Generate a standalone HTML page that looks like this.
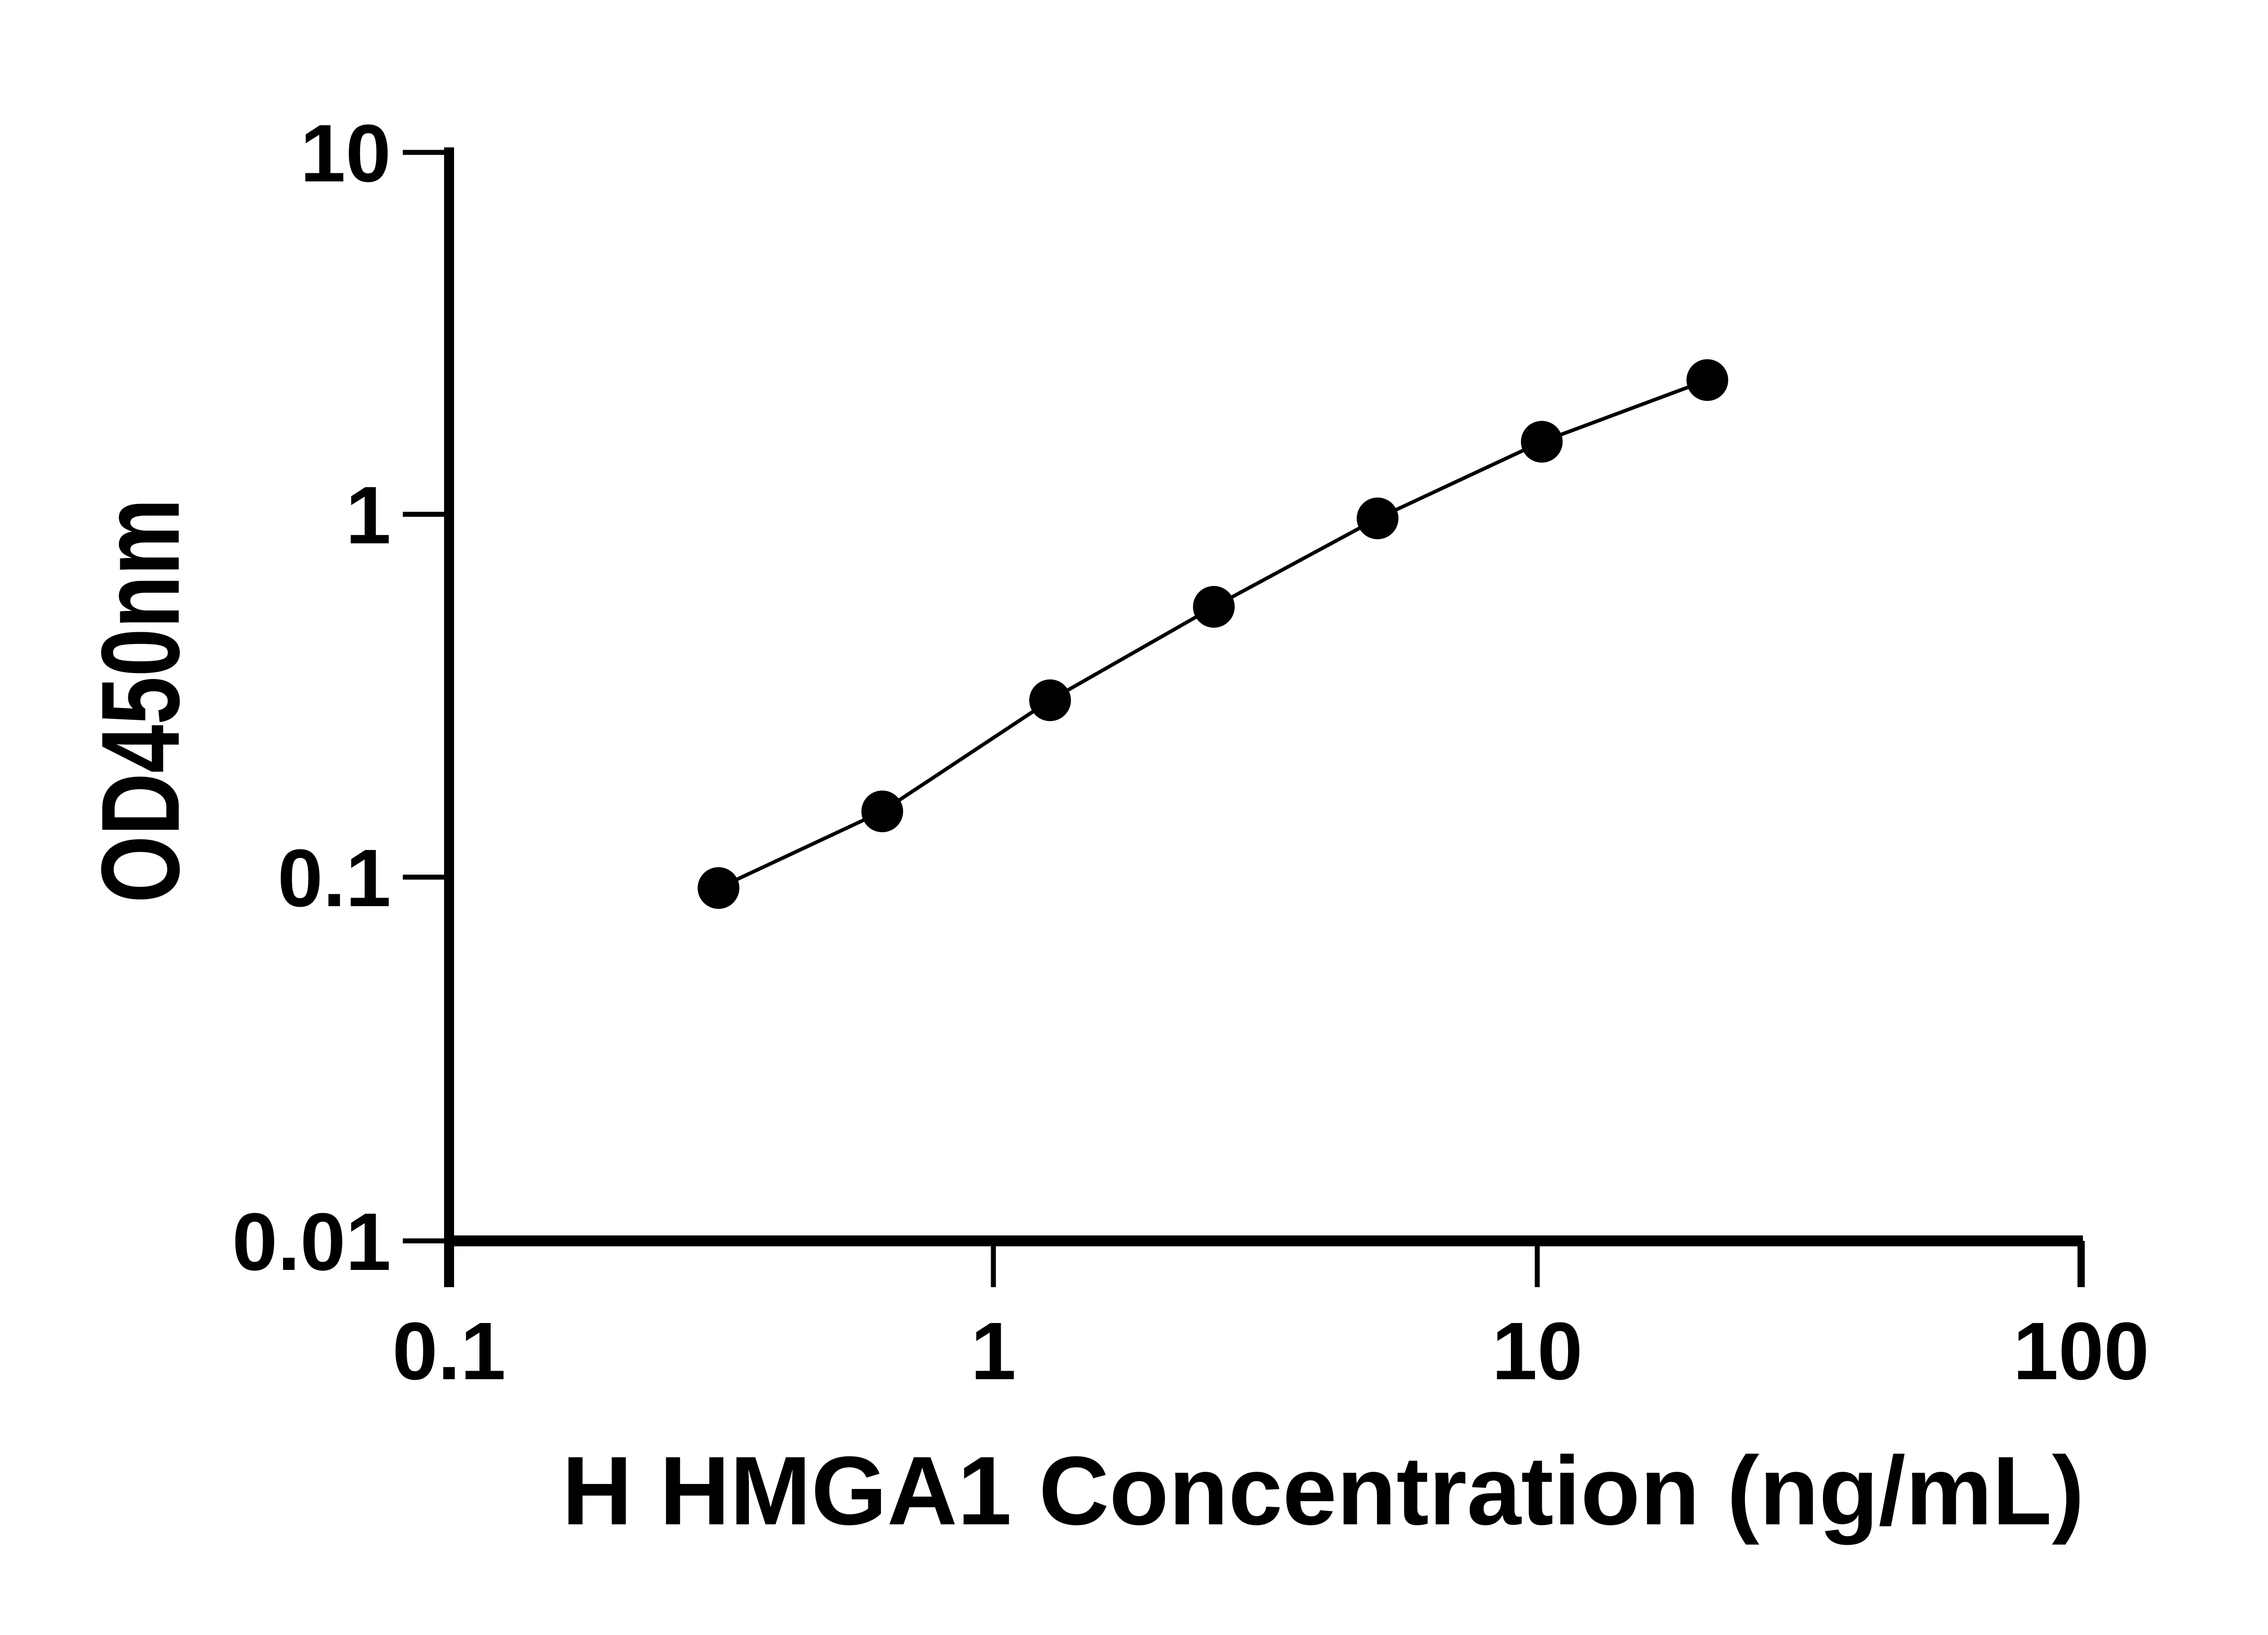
<!DOCTYPE html>
<html><head><meta charset="utf-8"><style>html,body{margin:0;padding:0;background:#fff}</style></head>
<body>
<svg width="5142" height="3600" viewBox="0 0 5142 3600" xmlns="http://www.w3.org/2000/svg" font-family="Liberation Sans, sans-serif" font-weight="bold">
<g stroke="#000" fill="none" stroke-linecap="butt">
<line x1="990" y1="325" x2="990" y2="2838" stroke-width="22"/>
<line x1="979" y1="2736" x2="4592" y2="2736" stroke-width="24"/>
<g stroke-width="11">
<line x1="888" y1="336" x2="990" y2="336"/>
<line x1="888" y1="1134" x2="990" y2="1134"/>
<line x1="888" y1="1934" x2="990" y2="1934"/>
<line x1="888" y1="2736" x2="990" y2="2736"/>
<line x1="2190" y1="2736" x2="2190" y2="2838"/>
<line x1="3389" y1="2736" x2="3389" y2="2838"/>
</g>
<line x1="4588" y1="2736" x2="4588" y2="2838" stroke-width="16"/>
<polyline stroke-width="8" points="1584,1958 1945,1789 2315,1544 2676,1338 3037,1143 3399,974 3764,838"/>
</g>
<g fill="#000">
<circle cx="1584" cy="1958" r="46"/><circle cx="1945" cy="1789" r="46"/><circle cx="2315" cy="1544" r="46"/><circle cx="2676" cy="1338" r="46"/><circle cx="3037" cy="1143" r="46"/><circle cx="3399" cy="974" r="46"/><circle cx="3764" cy="838" r="46"/>
</g>
<g font-size="180" text-anchor="end">
<text x="862" y="400">10</text>
<text x="862" y="1198">1</text>
<text x="862" y="1998">0.1</text>
<text x="862" y="2800">0.01</text>
</g>
<g font-size="180" text-anchor="middle">
<text x="990" y="3041">0.1</text>
<text x="2190" y="3041">1</text>
<text x="3389" y="3041">10</text>
<text x="4588" y="3041">100</text>
</g>
<text x="2917" y="3361" font-size="215" text-anchor="middle">H HMGA1 Concentration (ng/mL)</text>
<text transform="translate(394,1545) rotate(-90) scale(0.78,1)" font-size="245" text-anchor="middle">OD450nm</text>
</svg>
</body></html>
